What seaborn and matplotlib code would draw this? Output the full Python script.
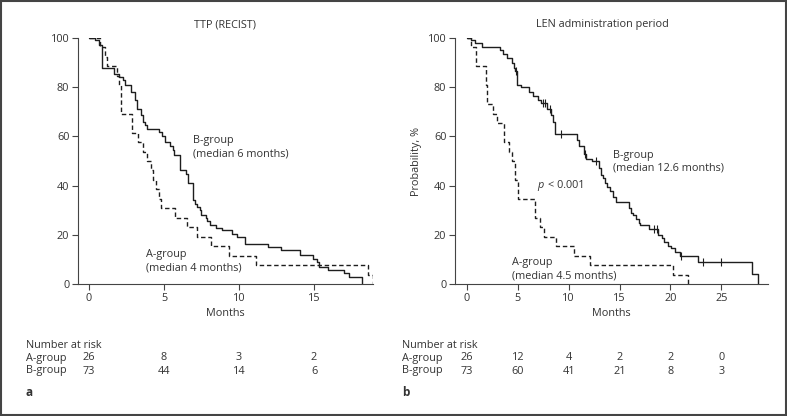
import numpy as np
import pandas as pd
import seaborn as sns
import matplotlib.pyplot as plt
from matplotlib.patches import Rectangle
from matplotlib.transforms import blended_transform_factory

# ---- data ----
# panel a: TTP (RECIST), step curves (time in months, survival %)
ttp_a_t = [0, 0.73, 1.07, 1.2, 1.9, 2.0, 2.13, 2.87, 3.3, 3.6, 3.9, 4.13, 4.3, 4.47,
           4.64, 4.8, 5.73, 6.56, 7.2, 8.13, 9.3, 11.1, 18.6, 18.9]
ttp_a_s = [100, 96.2, 92.3, 88.5, 84.6, 80.8, 69.2, 61.5, 57.7, 53.8, 50, 46.2, 42.3, 38.5,
           34.6, 30.8, 26.9, 23.1, 19.2, 15.4, 11.5, 7.7, 3.8, 0]
ttp_b_t = [0, 0.4, 0.7, 0.9, 1.7, 2.0, 2.3, 2.4, 2.8, 3.07, 3.2, 3.5, 3.6, 3.75, 3.9, 4.64,
           4.9, 5.1, 5.4, 5.6, 5.67, 6.07, 6.44, 6.6, 6.96, 7.07, 7.2, 7.4, 7.5, 7.78, 7.9,
           8.07, 8.47, 8.84, 9.5, 9.84, 10.4, 11.96, 12.8, 14.07, 14.9, 15.2, 15.35, 15.9,
           17.0, 17.3, 18.2]
ttp_b_s = [100, 99, 97, 87.7, 85.5, 84, 83, 81, 78, 75, 71.3, 68.6, 65.9, 64.5, 63.1, 61.8,
           60.2, 57.7, 56, 54.5, 52.3, 46.5, 44.9, 41, 34.3, 32.7, 31.5, 30, 28.2, 27, 25.5,
           24.1, 22.8, 21.8, 20.5, 19, 16.4, 15, 13.8, 11.8, 10.2, 9.1, 7, 5.7,
           4.5, 3, 0]

# panel b: LEN administration period
len_a_t = [0, 0.43, 0.85, 1.9, 2.0, 2.55, 2.95, 3.6, 4.1, 4.45, 4.7, 5.0, 6.7, 7.2, 7.6,
           8.8, 10.5, 12.05, 20.3, 21.7]
len_a_s = [100, 96.2, 88.5, 80.8, 73.1, 69.2, 65.4, 57.7, 53.8, 50, 42.3, 34.6, 26.9, 23.1,
           19.2, 15.4, 11.5, 7.7, 3.8, 0]
len_b_t = [0, 0.4, 0.8, 1.5, 3.2, 3.5, 3.9, 4.4, 4.6, 4.7, 4.9, 5.3, 6.1, 6.5, 7.0, 7.3,
           7.9, 8.3, 8.5, 8.7, 10.8, 11.0, 11.5, 11.7, 12.3, 13.0, 13.2, 13.4, 13.6, 13.8,
           14.1, 14.4, 14.7, 15.9, 16.1, 16.3, 16.6, 16.9, 17.0, 17.9, 18.8, 19.2, 19.4,
           19.8, 20.1, 20.5, 20.9, 22.7, 28.0, 28.6]
len_b_s = [100, 99, 98, 96.5, 95, 93.5, 92, 90, 88, 86.5, 81, 80, 78, 76.5, 75, 73.5,
           71, 68.5, 66, 61, 58.5, 56, 53, 51, 50, 47, 44.5, 43, 41, 39.5,
           38, 35.5, 33.5, 31, 29, 28, 26.5, 25, 24, 22.5, 20, 18.5, 17,
           15.5, 14.5, 13, 11.5, 9, 4, 0]
len_b_cens = [4.85, 7.5, 7.7, 8.2, 9.2, 11.6, 12.7, 18.4, 18.7, 21.0, 23.2, 25.0]

# number at risk
risk_times_a = [0, 5, 10, 15]
risk_a_ttp = [26, 8, 3, 2]
risk_b_ttp = [73, 44, 14, 6]
risk_times_b = [0, 5, 10, 15, 20, 25]
risk_a_len = [26, 12, 4, 2, 2, 0]
risk_b_len = [73, 60, 41, 21, 8, 3]

# ---- style ----
sns.set_style('ticks')
plt.rcParams['font.family'] = ['Open Sans', 'DejaVu Sans']
plt.rcParams['font.size'] = 7.8
txt = '#333333'
line = '#1e1e1e'
plt.rcParams['text.color'] = txt
plt.rcParams['axes.labelcolor'] = txt
plt.rcParams['xtick.color'] = txt
plt.rcParams['ytick.color'] = txt

W, H = 787, 416
fig = plt.figure(figsize=(W / 100, H / 100), dpi=100)
fig.patch.set_facecolor('white')


def px_axes(x0, x1, y0, y1):
    return fig.add_axes([x0 / W, 1 - y1 / H, (x1 - x0) / W, (y1 - y0) / H])


ax1 = px_axes(78, 373, 38, 284)
ax2 = px_axes(455, 768, 38, 284)


def step(ax, t, s, dashed):
    df = pd.DataFrame({'t': t, 's': s})
    sns.lineplot(data=df, x='t', y='s', ax=ax, color=line, lw=1.0,
                 drawstyle='steps-post', estimator=None, sort=False,
                 linestyle=(0, (3.2, 2.0)) if dashed else '-')


step(ax1, ttp_b_t, ttp_b_s, False)
step(ax1, ttp_a_t, ttp_a_s, True)
step(ax2, len_b_t, len_b_s, False)
step(ax2, len_a_t, len_a_s, True)

# censor marks on the B curve, heights taken from the step curve
idx = np.searchsorted(len_b_t, len_b_cens, side='right') - 1
cens_y = np.array(len_b_s)[idx]
sns.scatterplot(x=len_b_cens, y=cens_y, ax=ax2, marker='|', s=28, color=line,
                linewidth=0.8)

for ax, xl, xt in [(ax1, (-0.73, 18.93), [0, 5, 10, 15]),
                   (ax2, (-1.18, 29.6), [0, 5, 10, 15, 20, 25])]:
    ax.set_xlim(*xl)
    ax.set_ylim(0, 100)
    ax.set_xticks(xt)
    ax.set_yticks([0, 20, 40, 60, 80, 100])
    ax.set_xlabel('Months', labelpad=3)
    ax.set_ylabel('')
    sns.despine(ax=ax)
    for sp in ['left', 'bottom']:
        ax.spines[sp].set_color('#444444')
        ax.spines[sp].set_linewidth(0.8)
    ax.tick_params(length=4.3, width=0.8, color='#444444', pad=2, labelsize=7.8)

ax2.set_ylabel('Probability, %', labelpad=4)

# titles
fig.text(225 / W, 1 - 25 / H, 'TTP (RECIST)', ha='center', va='center')
fig.text(602 / W, 1 - 25 / H, 'LEN administration period', ha='center', va='center')

# curve annotations
ax1.text(6.93, 58.5, 'B-group', va='center')
ax1.text(6.93, 53.0, '(median 6 months)', va='center')
ax1.text(3.8, 11.8, 'A-group', va='center')
ax1.text(3.8, 6.5, '(median 4 months)', va='center')
ax2.text(14.35, 52.4, 'B-group', va='center')
ax2.text(14.35, 47.0, '(median 12.6 months)', va='center')
ax2.text(6.9, 40, 'p', va='center', fontstyle='italic')
ax2.annotate('< 0.001', xy=(6.9, 40), xytext=(8, 0), textcoords='offset points',
             va='center')
ax2.text(4.4, 8.9, 'A-group', va='center')
ax2.text(4.4, 3.4, '(median 4.5 months)', va='center')

# number at risk tables
rows_y = [1 - 345 / H, 1 - 358 / H, 1 - 371 / H]
for ax, x0, times, ra, rb, tag in [(ax1, 26, risk_times_a, risk_a_ttp, risk_b_ttp, 'a'),
                                   (ax2, 402, risk_times_b, risk_a_len, risk_b_len, 'b')]:
    fig.text(x0 / W, rows_y[0], 'Number at risk', va='center')
    fig.text(x0 / W, rows_y[1], 'A-group', va='center')
    fig.text(x0 / W, rows_y[2], 'B-group', va='center')
    tr = blended_transform_factory(ax.transData, fig.transFigure)
    for t, a, b in zip(times, ra, rb):
        ax.text(t, rows_y[1], str(a), transform=tr, ha='center', va='center')
        ax.text(t, rows_y[2], str(b), transform=tr, ha='center', va='center')
    fig.text(x0 / W, 1 - 392 / H, tag, va='center', fontweight='bold', fontsize=8.5)

# outer frame
fig.add_artist(Rectangle((0.001, 0.002), 0.998, 0.996, transform=fig.transFigure,
                         fill=False, edgecolor='#444444', lw=1.5))

fig.savefig('out.png', dpi=100)
